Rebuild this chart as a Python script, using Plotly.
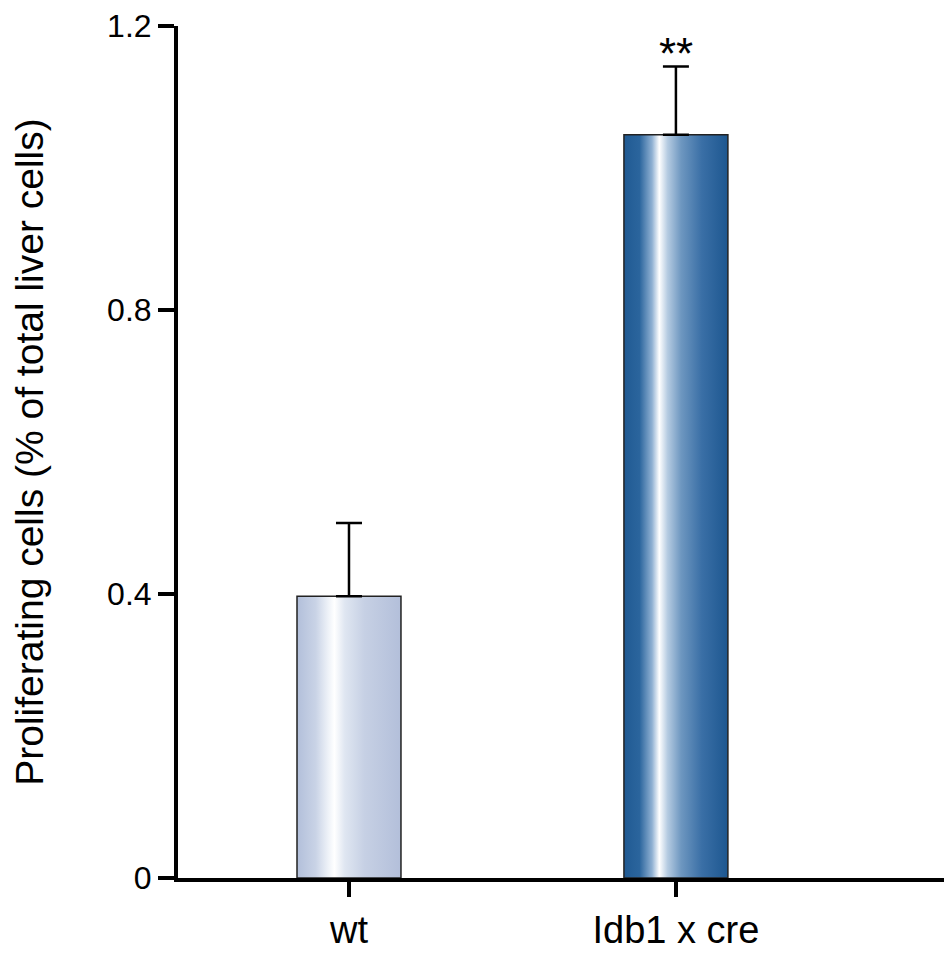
import plotly.graph_objects as go

categories = ["wt", "Idb1 x cre"]
values = [0.397, 1.047]
errors = [0.103, 0.096]
significance = ["", "**"]
y_ticks = [0, 0.4, 0.8, 1.2]
y_ticktext = ["0", "0.4", "0.8", "1.2"]

bar_half = 0.159
gradients = [
    [[0.0, "#b2bfda"], [0.18, "#c9d3e6"], [0.3, "#eef2f8"], [0.36, "#ffffff"],
     [0.46, "#dfe6f1"], [0.65, "#c6d0e4"], [1.0, "#b3bfda"]],
    [[0.0, "#205a93"], [0.15, "#2b659d"], [0.27, "#8fb0d2"], [0.34, "#ffffff"],
     [0.42, "#b5cbe1"], [0.55, "#6e97c0"], [0.75, "#3a6fa6"], [1.0, "#1d5790"]],
]

fig = go.Figure()
xs = list(range(len(categories)))
for i, (x, v) in enumerate(zip(xs, values)):
    fig.add_trace(go.Scatter(
        x=[x - bar_half, x - bar_half, x + bar_half, x + bar_half, x - bar_half],
        y=[0, v, v, 0, 0],
        mode="lines",
        fill="toself",
        fillgradient=dict(type="horizontal", colorscale=gradients[i]),
        line=dict(color="#222222", width=1.5),
        hoverinfo="skip",
        showlegend=False,
    ))

fig.add_trace(go.Scatter(
    x=xs, y=values, mode="markers",
    marker=dict(size=1, color="rgba(0,0,0,0)"),
    error_y=dict(type="data", symmetric=False, array=errors,
                 arrayminus=[0] * len(errors), color="black", thickness=2.5, width=13),
    showlegend=False, hoverinfo="skip",
))

for x, v, e, s in zip(xs, values, errors, significance):
    if s:
        fig.add_annotation(x=x, y=v + e, text=s, showarrow=False, yanchor="bottom",
                           yshift=-14, font=dict(size=44, color="black"))

font_family = "Liberation Sans, Arial, sans-serif"
fig.update_layout(
    width=936, height=943,
    margin=dict(l=170, r=0, t=16, b=71),
    plot_bgcolor="white", paper_bgcolor="white",
    font=dict(family=font_family, color="black"),
    showlegend=False,
    xaxis=dict(
        range=[-0.523, 1.82], tickvals=xs, ticktext=categories,
        showline=True, linecolor="black", linewidth=4,
        ticks="outside", ticklen=15, tickwidth=4, tickcolor="black",
        showgrid=False, zeroline=False, tickfont=dict(size=38),
        ticklabeloverflow="allow",
    ),
    yaxis=dict(
        range=[0, 1.2], tickvals=y_ticks, ticktext=y_ticktext,
        showline=True, linecolor="black", linewidth=4,
        ticks="outside", ticklen=16, tickwidth=4, tickcolor="black",
        showgrid=False, zeroline=False, tickfont=dict(size=32),
        ticklabeloverflow="allow",
        title=dict(text="Proliferating cells (% of total liver cells)",
                   font=dict(size=39), standoff=58),
    ),
)

fig.write_html("out.html")
